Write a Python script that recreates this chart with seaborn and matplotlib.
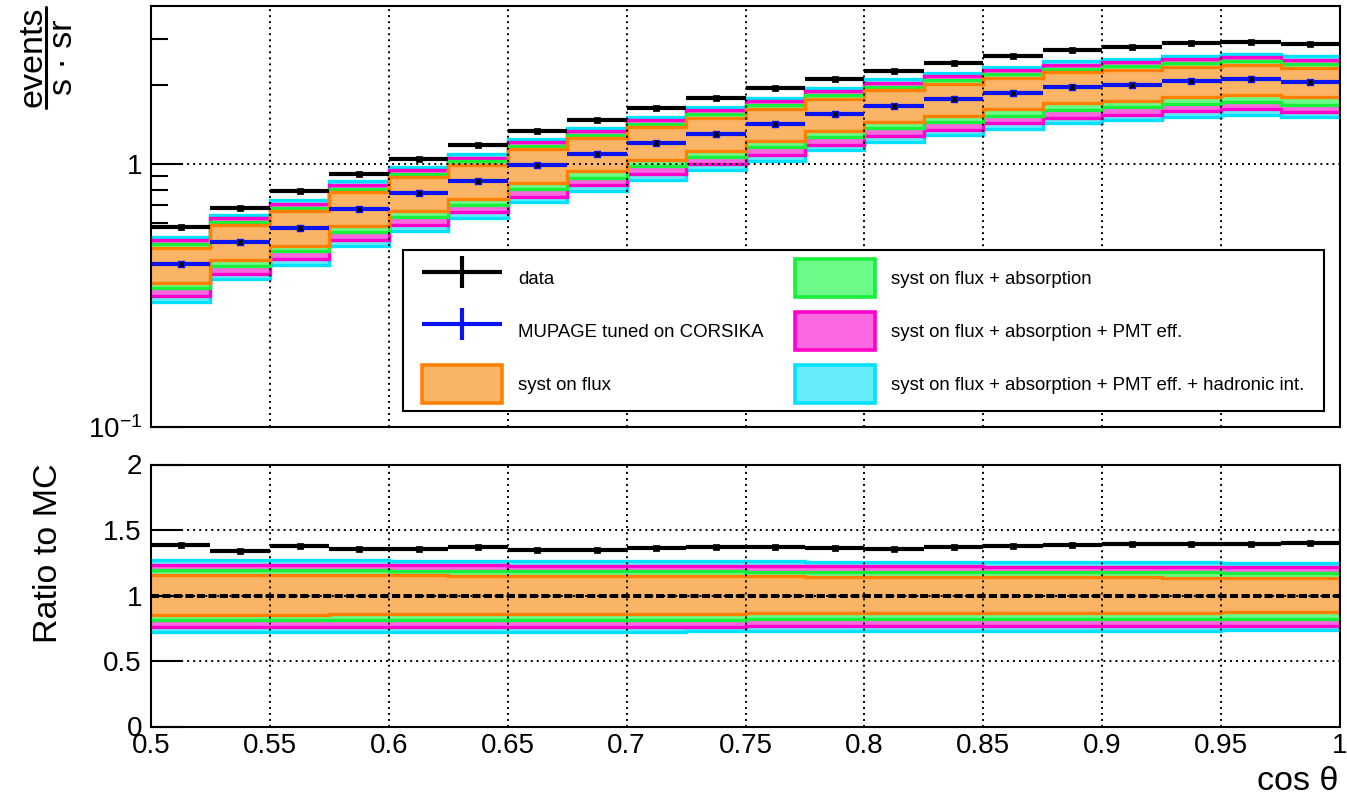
import numpy as np
import matplotlib
matplotlib.use("Agg")
import matplotlib.pyplot as plt
import seaborn as sns
from matplotlib.patches import Patch, Rectangle
from matplotlib.lines import Line2D
from matplotlib.container import ErrorbarContainer
from matplotlib.legend_handler import HandlerErrorbar
from matplotlib.ticker import FixedLocator, FixedFormatter, NullFormatter

# ---------------- data ----------------
bin_edges = [0.5, 0.525, 0.55, 0.575, 0.6, 0.625, 0.65, 0.675, 0.7, 0.725, 0.75,
             0.775, 0.8, 0.825, 0.85, 0.875, 0.9, 0.925, 0.95, 0.975, 1.0]

data_rate = [0.576, 0.679, 0.791, 0.919, 1.051, 1.184, 1.332, 1.479, 1.637, 1.793,
             1.957, 2.117, 2.272, 2.436, 2.574, 2.720, 2.803, 2.892, 2.927, 2.876]
data_err = [0.004, 0.004, 0.005, 0.005, 0.006, 0.006, 0.006, 0.007, 0.007, 0.007,
            0.008, 0.008, 0.008, 0.009, 0.009, 0.009, 0.009, 0.010, 0.010, 0.010]

mc_rate = [0.416, 0.506, 0.573, 0.678, 0.774, 0.862, 0.989, 1.091, 1.202, 1.308,
           1.419, 1.553, 1.672, 1.766, 1.866, 1.963, 2.009, 2.068, 2.105, 2.056]
mc_err = [0.003, 0.003, 0.004, 0.004, 0.004, 0.005, 0.005, 0.005, 0.006, 0.006,
          0.006, 0.007, 0.007, 0.007, 0.008, 0.008, 0.008, 0.008, 0.008, 0.008]

ratio = [1.385, 1.340, 1.378, 1.355, 1.355, 1.373, 1.347, 1.350, 1.360, 1.368,
         1.373, 1.360, 1.357, 1.373, 1.378, 1.383, 1.395, 1.395, 1.390, 1.400]
ratio_err = [0.006, 0.006, 0.006, 0.006, 0.006, 0.006, 0.006, 0.006, 0.006, 0.006,
             0.006, 0.006, 0.006, 0.006, 0.006, 0.006, 0.006, 0.006, 0.006, 0.006]

# relative systematic bands (ratio to MC), upper / lower
had_hi = [1.270, 1.270, 1.270, 1.268, 1.266, 1.265, 1.265, 1.264, 1.262, 1.261,
          1.260, 1.259, 1.258, 1.257, 1.256, 1.255, 1.254, 1.252, 1.251, 1.250]
had_lo = [0.720, 0.720, 0.721, 0.721, 0.722, 0.723, 0.724, 0.724, 0.725, 0.726,
          0.727, 0.728, 0.728, 0.729, 0.730, 0.731, 0.732, 0.732, 0.733, 0.734]
pmt_hi = [1.235, 1.234, 1.233, 1.232, 1.231, 1.230, 1.229, 1.228, 1.227, 1.226,
          1.225, 1.224, 1.223, 1.222, 1.221, 1.220, 1.219, 1.217, 1.216, 1.215]
pmt_lo = [0.757, 0.757, 0.758, 0.758, 0.759, 0.760, 0.760, 0.761, 0.762, 0.763,
          0.764, 0.765, 0.765, 0.766, 0.767, 0.767, 0.768, 0.769, 0.770, 0.770]
abs_hi = [1.195, 1.194, 1.193, 1.192, 1.190, 1.189, 1.188, 1.187, 1.186, 1.185,
          1.183, 1.182, 1.181, 1.180, 1.179, 1.178, 1.177, 1.176, 1.175, 1.174]
abs_lo = [0.812, 0.812, 0.813, 0.813, 0.814, 0.814, 0.815, 0.815, 0.816, 0.816,
          0.817, 0.817, 0.818, 0.818, 0.818, 0.819, 0.819, 0.820, 0.820, 0.820]
flux_hi = [1.158, 1.157, 1.156, 1.155, 1.153, 1.152, 1.151, 1.150, 1.148, 1.147,
           1.146, 1.145, 1.143, 1.142, 1.141, 1.140, 1.138, 1.137, 1.136, 1.134]
flux_lo = [0.852, 0.853, 0.854, 0.855, 0.856, 0.857, 0.858, 0.860, 0.861, 0.862,
           0.863, 0.864, 0.865, 0.866, 0.867, 0.868, 0.869, 0.870, 0.872, 0.874]

labels = ["data", "MUPAGE tuned on CORSIKA", "syst on flux",
          "syst on flux + absorption",
          "syst on flux + absorption + PMT eff.",
          "syst on flux + absorption + PMT eff. + hadronic int."]

x_ticks = [0.5, 0.55, 0.6, 0.65, 0.7, 0.75, 0.8, 0.85, 0.9, 0.95, 1.0]
x_ticklabels = ["0.5", "0.55", "0.6", "0.65", "0.7", "0.75", "0.8", "0.85", "0.9", "0.95", "1"]
r_ticks = [0, 0.5, 1, 1.5, 2]
r_ticklabels = ["0", "0.5", "1", "1.5", "2"]

# ---------------- style ----------------
sns.set_theme(style="white")
plt.rcParams["font.family"] = ["Liberation Sans", "DejaVu Sans"]
plt.rcParams["mathtext.fontset"] = "custom"
plt.rcParams["mathtext.rm"] = "Liberation Sans"
plt.rcParams["mathtext.it"] = "Liberation Sans:italic"
plt.rcParams["mathtext.default"] = "regular"
plt.rcParams["axes.edgecolor"] = "black"
plt.rcParams["text.color"] = "black"
plt.rcParams["xtick.color"] = "black"
plt.rcParams["ytick.color"] = "black"
plt.rcParams["axes.labelcolor"] = "black"

C_BLUE = "#0A14F0"
bands = [  # outermost first
    (had_lo, had_hi, "#66ECF9", "#00E1FF", labels[5]),
    (pmt_lo, pmt_hi, "#FA68E2", "#FF00CC", labels[4]),
    (abs_lo, abs_hi, "#6CFA88", "#18F03C", labels[3]),
    (flux_lo, flux_hi, "#F9B466", "#FF8000", labels[2]),
]

W, H = 1347, 806
fig = plt.figure(figsize=(W / 100, H / 100), dpi=100)
fx = lambda p: p / W
fy = lambda p: 1 - p / H

ax1 = fig.add_axes([fx(151), fy(427), fx(1340) - fx(151), fy(6) - fy(427)])
ax2 = fig.add_axes([fx(151), fy(726.5), fx(1340) - fx(151), fy(464.5) - fy(726.5)])

edges = np.asarray(bin_edges)
centers = 0.5 * (edges[:-1] + edges[1:])
xerr = [centers - edges[:-1], edges[1:] - centers]
mc = np.asarray(mc_rate)

grid_style = dict(color="black", linestyle=(0, (1, 2.1)), linewidth=1.4)


def draw_bands(ax, scale):
    for i, (lo, hi, light, strong, _) in enumerate(bands):
        z = 1 + 0.1 * i
        lo_v = np.asarray(lo) * scale
        hi_v = np.asarray(hi) * scale
        ax.stairs(hi_v, edges, baseline=lo_v, fill=True, color=light, lw=0, zorder=z)
        ax.stairs(hi_v, edges, baseline=None, color=strong, lw=2.4, zorder=z + 0.05)
        ax.stairs(lo_v, edges, baseline=None, color=strong, lw=2.4, zorder=z + 0.05)


# ---------------- top panel ----------------
draw_bands(ax1, mc)
h_mc = ax1.errorbar(centers, mc_rate, xerr=xerr, yerr=mc_err, fmt="none",
                    ecolor=C_BLUE, elinewidth=3.0, capsize=0, zorder=5,
                    label=labels[1])
sns.scatterplot(x=centers, y=mc_rate, ax=ax1, marker="s", s=14, color="black",
                edgecolor=C_BLUE, linewidth=1.0, zorder=6, legend=False)
h_data = ax1.errorbar(centers, data_rate, xerr=xerr, yerr=data_err, fmt="none",
                      ecolor="black", elinewidth=3.0, capsize=0, zorder=7,
                      label=labels[0])
sns.scatterplot(x=centers, y=data_rate, ax=ax1, marker="s", s=14, color="black",
                edgecolor="black", linewidth=0.5, zorder=8, legend=False)

ax1.set_yscale("log")
ax1.set_xlim(0.5, 1.0)
ax1.set_ylim(0.1, 4.0)
ax1.set_xticks(x_ticks)
ax1.yaxis.set_major_locator(FixedLocator([0.1, 1]))
ax1.yaxis.set_major_formatter(FixedFormatter([r"$10^{-1}$", "1"]))
ax1.yaxis.set_minor_locator(FixedLocator([0.6, 0.7, 0.8, 0.9, 2, 3]))
ax1.yaxis.set_minor_formatter(NullFormatter())
ax1.set_axisbelow(False)
ax1.grid(True, which="major", **grid_style)
ax1.tick_params(axis="x", length=0, labelbottom=False)
ax1.tick_params(axis="y", which="major", direction="in", length=23, width=1.5,
                labelsize=20, pad=6.5, left=True, right=False)
ax1.tick_params(axis="y", which="minor", direction="in", length=12, width=1.5,
                left=True, right=False)
ax1.set_xlabel("")
ax1.set_ylabel("")

# legend: opaque frame box + frameless legend placed inside it
frame = Rectangle((fx(403), fy(411)), fx(1324) - fx(403), fy(250) - fy(411),
                  transform=fig.transFigure, facecolor="white", edgecolor="black",
                  linewidth=1.5, zorder=19, clip_on=False)
ax1.add_patch(frame)
patches = [Patch(facecolor=light, edgecolor=strong, linewidth=2.6, label=lab)
           for (_, _, light, strong, lab) in bands[::-1]]
handles = [h_data, h_mc] + patches
leg = ax1.legend(handles=handles, labels=labels, ncol=2, loc="upper left",
                 bbox_to_anchor=(fx(413), fy(411), fx(1314) - fx(413), fy(250) - fy(411)),
                 bbox_transform=fig.transFigure, mode="expand", borderaxespad=0,
                 fontsize=13.4, handlelength=4.3, handleheight=2.76,
                 handletextpad=0.86, labelspacing=0.8, borderpad=0.5,
                 columnspacing=1.45, frameon=False,
                 handler_map={ErrorbarContainer: HandlerErrorbar(xerr_size=2.15, yerr_size=0.86)})
leg.set_zorder(20)

# ---------------- bottom panel ----------------
draw_bands(ax2, 1.0)
ax2.axhline(1.0, color="black", lw=2.9, linestyle=(0, (2.0, 0.85)), zorder=4)
ax2.errorbar(centers, ratio, xerr=xerr, yerr=ratio_err, fmt="none",
             ecolor="black", elinewidth=3.0, capsize=0, zorder=7)
sns.scatterplot(x=centers, y=ratio, ax=ax2, marker="s", s=14, color="black",
                edgecolor="black", linewidth=0.5, zorder=8, legend=False)

ax2.set_xlim(0.5, 1.0)
ax2.set_ylim(0, 2)
ax2.set_xticks(x_ticks)
ax2.set_xticklabels(x_ticklabels)
ax2.set_yticks(r_ticks)
ax2.set_yticklabels(r_ticklabels)
ax2.set_axisbelow(False)
ax2.grid(True, which="major", **grid_style)
ax2.tick_params(axis="x", length=0, labelsize=20, pad=4.5)
ax2.tick_params(axis="y", direction="in", length=23, width=1.5, labelsize=20,
                pad=6.5, left=True, right=False)
ax2.set_xlabel("")
ax2.set_ylabel("")

for ax in (ax1, ax2):
    for sp in ax.spines.values():
        sp.set_color("black")
        sp.set_linewidth(1.5)
        sp.set_zorder(30)

# ---------------- axis titles ----------------
fig.text(fx(33), fy(57), "events", rotation=90, ha="center", va="center", fontsize=24.5)
fig.add_artist(Line2D([fx(46), fx(46)], [fy(7), fy(108)], color="black", lw=2.2))
fig.text(fx(63), fy(57), "s \u00b7 sr", rotation=90, ha="center", va="center", fontsize=24.5)
fig.text(fx(49), fy(553), "Ratio to MC", rotation=90, ha="center", va="center", fontsize=24.5)
fig.text(fx(1338), fy(781), "cos \u03b8", ha="right", va="center", fontsize=24.5)

fig.savefig("out.png", dpi=100, facecolor="white")
